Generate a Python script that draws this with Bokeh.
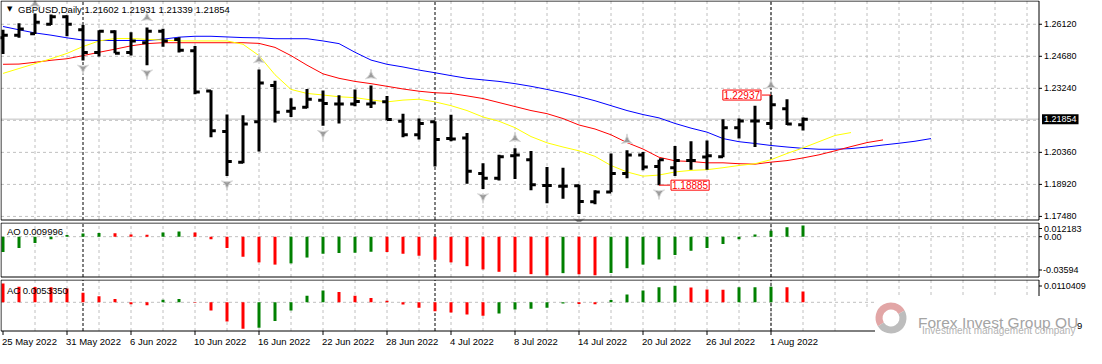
from datetime import date
import numpy as np
from bokeh.plotting import figure
from bokeh.layouts import column
from bokeh.models import ColumnDataSource, Label, BoxAnnotation, Range1d
from bokeh.embed import file_html
from bokeh.resources import INLINE

# ---------------- data ----------------
symbol = "GBPUSD"
timeframe = "Daily"

dates = ["2022-05-25", "2022-05-26", "2022-05-27", "2022-05-30", "2022-05-31",
         "2022-06-01", "2022-06-02", "2022-06-03", "2022-06-06", "2022-06-07",
         "2022-06-08", "2022-06-09", "2022-06-10", "2022-06-13", "2022-06-14",
         "2022-06-15", "2022-06-16", "2022-06-17", "2022-06-20", "2022-06-21",
         "2022-06-22", "2022-06-23", "2022-06-24", "2022-06-27", "2022-06-28",
         "2022-06-29", "2022-06-30", "2022-07-01", "2022-07-04", "2022-07-05",
         "2022-07-06", "2022-07-07", "2022-07-08", "2022-07-11", "2022-07-12",
         "2022-07-13", "2022-07-14", "2022-07-15", "2022-07-18", "2022-07-19",
         "2022-07-20", "2022-07-21", "2022-07-22", "2022-07-25", "2022-07-26",
         "2022-07-27", "2022-07-28", "2022-07-29", "2022-08-01", "2022-08-02",
         "2022-08-03"]

opens = [1.25510, 1.25628, 1.25697, 1.26120, 1.26455, 1.25872, 1.24856, 1.25780, 1.24856, 1.25292,
         1.25802, 1.25436, 1.24931, 1.23114, 1.21297, 1.19920, 1.21733, 1.23362, 1.22212, 1.22386,
         1.22708, 1.22534, 1.22534, 1.22534, 1.22634, 1.21763, 1.21153, 1.21733, 1.20979, 1.21009,
         1.19410, 1.19192, 1.20208, 1.20033, 1.18874, 1.18831, 1.18857, 1.18134, 1.18582, 1.19410,
         1.20238, 1.19728, 1.19672, 1.19990, 1.20150, 1.20164, 1.21471, 1.21776, 1.21663, 1.22316,
         1.21602]
highs = [1.25872, 1.26164, 1.26599, 1.26556, 1.26525, 1.26090, 1.25846, 1.25846, 1.25758, 1.25976,
         1.25915, 1.25541, 1.25148, 1.23157, 1.22068, 1.22024, 1.24085, 1.23580, 1.22796, 1.23214,
         1.23144, 1.22926, 1.23188, 1.23362, 1.22896, 1.22098, 1.21881, 1.21763, 1.22055, 1.21227,
         1.19876, 1.20251, 1.20543, 1.20425, 1.19702, 1.19672, 1.18900, 1.18656, 1.20312, 1.20456,
         1.20382, 1.20033, 1.20643, 1.20861, 1.20892, 1.21850, 1.21881, 1.22460, 1.22937, 1.22752,
         1.21931]
lows = [1.24782, 1.25510, 1.25684, 1.26090, 1.25584, 1.24495, 1.24669, 1.24813, 1.24713, 1.24277,
        1.25105, 1.24856, 1.22970, 1.21035, 1.19293, 1.19876, 1.20399, 1.21706, 1.21950, 1.22342,
        1.21558, 1.21663, 1.22430, 1.22360, 1.21807, 1.21035, 1.20935, 1.19728, 1.20861, 1.18944,
        1.18713, 1.19092, 1.19162, 1.18656, 1.18073, 1.18277, 1.17593, 1.18029, 1.18569, 1.19192,
        1.19554, 1.18885, 1.19293, 1.19584, 1.19584, 1.20138, 1.20979, 1.20600, 1.21414, 1.21589,
        1.21339]
closes = [1.25628, 1.25902, 1.26207, 1.26455, 1.26120, 1.24856, 1.25802, 1.24813, 1.25366, 1.25802,
          1.25366, 1.24957, 1.23070, 1.21327, 1.19946, 1.21632, 1.23475, 1.22168, 1.22342, 1.22752,
          1.22560, 1.22534, 1.22647, 1.22578, 1.21837, 1.21153, 1.21663, 1.20935, 1.20966, 1.19510,
          1.19192, 1.20164, 1.20238, 1.18900, 1.18874, 1.18831, 1.18147, 1.18582, 1.19410, 1.20238,
          1.19702, 1.20033, 1.19990, 1.19990, 1.20208, 1.21471, 1.21776, 1.21776, 1.22504, 1.21632,
          1.21854]

# Alligator lines (they run into the future)
jaw = [1.2602, 1.2587, 1.2573, 1.2563, 1.2551, 1.2541, 1.2539, 1.2539, 1.2539, 1.2539,
       1.2545, 1.2554, 1.2558, 1.2558, 1.2555, 1.2552, 1.2551, 1.2547, 1.2547, 1.2547,
       1.2537, 1.2525, 1.2486, 1.2451, 1.2432, 1.2420, 1.2406, 1.2394, 1.2381, 1.2369,
       1.2362, 1.2355, 1.2345, 1.2333, 1.2319, 1.2304, 1.2287, 1.2268, 1.2246, 1.2224,
       1.2206, 1.2191, 1.2166, 1.2145, 1.2127, 1.2098, 1.2084, 1.2076, 1.2067, 1.2060,
       1.2054, 1.2050, 1.2050, 1.2053, 1.2060, 1.2069, 1.2077, 1.2086, 1.2098]
teeth = [1.2432, 1.2433, 1.2441, 1.2450, 1.2457, 1.2471, 1.2486, 1.2500, 1.2515, 1.2525,
         1.2529, 1.2529, 1.2529, 1.2529, 1.2529, 1.2529, 1.2526, 1.2508, 1.2471, 1.2428,
         1.2389, 1.2369, 1.2355, 1.2345, 1.2333, 1.2321, 1.2311, 1.2304, 1.2301, 1.2290,
         1.2278, 1.2260, 1.2242, 1.2224, 1.2210, 1.2188, 1.2159, 1.2141, 1.2115, 1.2080,
         1.2051, 1.2014, 1.1998, 1.1995, 1.1989, 1.1989, 1.1985, 1.1983, 1.1992, 1.1999,
         1.2011, 1.2025, 1.2043, 1.2062, 1.2080, 1.2092]
lips = [1.2391, 1.2413, 1.2435, 1.2457, 1.2481, 1.2512, 1.2537, 1.2548, 1.2548, 1.2544,
        1.2541, 1.2537, 1.2537, 1.2537, 1.2537, 1.2522, 1.2471, 1.2385, 1.2319, 1.2301,
        1.2294, 1.2286, 1.2282, 1.2272, 1.2263, 1.2271, 1.2275, 1.2263, 1.2246, 1.2224,
        1.2195, 1.2176, 1.2147, 1.2107, 1.2079, 1.2060, 1.2043, 1.2018, 1.1977, 1.1948,
        1.1929, 1.1934, 1.1948, 1.1955, 1.1958, 1.1967, 1.1977, 1.1985, 1.2003, 1.2031,
        1.2056, 1.2084, 1.2112, 1.2125]

fractal_up = [2, 9, 16, 23, 32, 39, 48]
fractal_down = [5, 9, 14, 20, 30, 36, 41]
marked_high_idx = 48
marked_low_idx = 41

ao = [-0.0137, -0.0100, -0.0057, -0.0023, 0.0014, 0.0029, 0.0032, 0.0030, 0.0020, 0.0018,
      0.0037, 0.0046, 0.0037, -0.0023, -0.0100, -0.0178, -0.0229, -0.0249, -0.0238, -0.0186,
      -0.0152, -0.0146, -0.0144, -0.0135, -0.0137, -0.0152, -0.0170, -0.0206, -0.0229, -0.0263,
      -0.0292, -0.0313, -0.0316, -0.0334, -0.0345, -0.0325, -0.0335, -0.0344, -0.0324, -0.0281,
      -0.0249, -0.0203, -0.0163, -0.0126, -0.0100, -0.0066, -0.0023, 0.0020, 0.0052, 0.0084,
      0.009996]
ac = [0.0093, 0.0077, 0.0076, 0.0075, 0.0068, 0.0047, 0.0030, 0.0016, -0.0009, -0.0014,
      0.0013, 0.0016, -0.0002, -0.0041, -0.0095, -0.0131, -0.0126, -0.0092, -0.0040, 0.0032,
      0.0058, 0.0051, 0.0032, 0.0021, 0.0008, -0.0011, -0.0027, -0.0044, -0.0051, -0.0060,
      -0.0066, -0.0055, -0.0036, -0.0032, -0.0027, -0.0006, -0.0008, -0.0010, 0.0011, 0.0039,
      0.0058, 0.0074, 0.0082, 0.0073, 0.0063, 0.0062, 0.0074, 0.0075, 0.0077, 0.0074,
      0.005335]
ao_first_up = True
ac_first_up = False

price_ticks = [1.17480, 1.18920, 1.20360, 1.21800, 1.23240, 1.24680, 1.26120]
price_lo, price_hi = 1.17319, 1.27166
ao_lo, ao_hi = -0.03594, 0.012183
ac_lo, ac_hi = -0.0142, 0.0110409

# ---------------- layout / style ----------------
FONT = "Liberation Sans"
W = 1086
CHART_W = 1038
BAR_PX = 16
X0 = -0.125                 # left edge of the chart boxes (bar units)
XR = X0 + CHART_W / BAR_PX  # right edge of the chart boxes
XS = X0 - 0.5 / BAR_PX      # canvas left
XE = XS + W / BAR_PX        # canvas right
TICK = 0.3
GREEN = "#008000"
RED = "#ff0000"
GRID = "#c0c0c0"

n = len(closes)
x = np.arange(n)
dts = [date.fromisoformat(d) for d in dates]
xr = Range1d(XS, XE)


def px(v):
    return v / BAR_PX


def make_fig(h, lo, hi, top_px, bot_px):
    ppx = (hi - lo) / (bot_px - top_px)
    p = figure(width=W, height=h, x_range=xr,
               y_range=Range1d(lo - (h - bot_px) * ppx, hi + top_px * ppx),
               x_axis_location=None, y_axis_location=None, min_border=0,
               output_backend="svg", toolbar_location=None)
    p.outline_line_color = None
    p.grid.visible = False
    p.background_fill_color = "white"
    p.border_fill_color = "white"
    return p, ppx


def grid(p, lo, hi, hlevels):
    gx = list(range(2, int(XR) + 1, 2))
    r = p.segment(x0=gx, y0=[lo] * len(gx), x1=gx, y1=[hi] * len(gx),
                  line_color=GRID, line_dash="3 3", line_width=1)
    r.level = "underlay"
    r = p.segment(x0=[X0] * len(hlevels), y0=hlevels, x1=[XR] * len(hlevels), y1=hlevels,
                  line_color=GRID, line_dash="3 3", line_width=1)
    r.level = "underlay"


def separators(p, lo, hi):
    sx = [i for i in range(1, n) if dts[i].month != dts[i - 1].month]
    r = p.segment(x0=sx, y0=[lo] * len(sx), x1=sx, y1=[hi] * len(sx),
                  line_color="black", line_dash="3 2", line_width=1)
    r.level = "underlay"


def border(p, lo, hi, bottom_end=XR, right_low=None):
    right_low = lo if right_low is None else right_low
    p.segment(x0=[X0, X0, X0, XR], y0=[hi, lo, lo, right_low],
              x1=[XR, bottom_end, X0, XR], y1=[hi, lo, hi, hi],
              line_color="black", line_width=1)


def right_ticks(p, levels):
    p.segment(x0=[XR] * len(levels), y0=levels, x1=[XR + px(3)] * len(levels), y1=levels,
              line_color="black", line_width=1)


def text(p, xx, yy, s, xo=0, yo=0, size="9.5px", color="black", align="left",
         baseline="middle", font=FONT, **kw):
    p.add_layout(Label(x=xx, y=yy, x_offset=xo, y_offset=yo, text=s, text_font=font,
                       text_font_size=size, text_color=color, text_align=align,
                       text_baseline=baseline, **kw))


# ---------------- main price panel ----------------
p1, pp1 = make_fig(222, price_lo, price_hi, 0.5, 219.5)
grid(p1, price_lo, price_hi, price_ticks)
r = p1.segment(x0=[X0], y0=[closes[-1]], x1=[XR], y1=[closes[-1]], line_color=GRID, line_width=1)
r.level = "underlay"
separators(p1, price_lo, price_hi)

p1.line(list(range(len(jaw))), jaw, line_color="#0000ff", line_width=1)
p1.line(list(range(len(teeth))), teeth, line_color="#ff0000", line_width=1)
p1.line(list(range(len(lips))), lips, line_color="#ffff00", line_width=1)

bars = ColumnDataSource(dict(x=x, xl=x - TICK, xr=x + TICK, o=opens, h=highs, l=lows, c=closes))
p1.segment(x0="x", y0="l", x1="x", y1="h", source=bars, line_color="black", line_width=3)
p1.segment(x0="xl", y0="o", x1="x", y1="o", source=bars, line_color="black", line_width=3)
p1.segment(x0="x", y0="c", x1="xr", y1="c", source=bars, line_color="black", line_width=3)

UP_GAP, DOWN_GAP = 10 * pp1, 8 * pp1
p1.scatter(x=fractal_up, y=[highs[i] + UP_GAP for i in fractal_up], marker="triangle_pin",
           size=11, fill_color="#9c9c9c", line_color="#d6d6d6", line_width=1)
p1.scatter(x=fractal_down, y=[lows[i] - DOWN_GAP for i in fractal_down], marker="triangle_pin",
           angle=np.pi, size=11, fill_color="#9c9c9c", line_color="#d6d6d6", line_width=1)

hi_v = highs[marked_high_idx]
lo_v = lows[marked_low_idx]
p1.segment(x0=[marked_high_idx - px(9)], y0=[hi_v], x1=[marked_high_idx], y1=[hi_v],
           line_color=RED, line_width=1)
p1.segment(x0=[marked_low_idx], y0=[lo_v], x1=[marked_low_idx + px(11)], y1=[lo_v],
           line_color=RED, line_width=1)
text(p1, marked_high_idx, hi_v, f"{hi_v:.5f}", xo=-10, size="10px", color=RED, align="right",
     border_line_color=RED, background_fill_color="white", padding=1)
text(p1, marked_low_idx, lo_v, f"{lo_v:.5f}", xo=12, size="10px", color=RED, align="left",
     border_line_color=RED, background_fill_color="white", padding=1)

border(p1, price_lo, price_hi)
shown_ticks = [t for t in price_ticks if abs(t - closes[-1]) > 0.002]
right_ticks(p1, shown_ticks)
for t in shown_ticks:
    text(p1, XR, t, f"{t:.5f}", xo=5, size="9px")
text(p1, XR, closes[-1], f"{closes[-1]:.5f}", xo=3, size="9px", color="white",
     background_fill_color="black", padding=2)

text(p1, X0, price_hi, "\u25BC", xo=6, yo=-8, size="7px", font="DejaVu Sans")
text(p1, X0, price_hi,
     f"{symbol},{timeframe}  {opens[-1]:.5f} {highs[-1]:.5f} {lows[-1]:.5f} {closes[-1]:.5f}",
     xo=17, yo=-8)

# ---------------- AO panel ----------------
ao_up = [ao_first_up] + [ao[i] > ao[i - 1] for i in range(1, n)]
ac_up = [ac_first_up] + [ac[i] > ac[i - 1] for i in range(1, n)]

p2, pp2 = make_fig(57, ao_lo, ao_hi, 0.5, 54.5)
grid(p2, ao_lo, ao_hi, [0])
separators(p2, ao_lo, ao_hi)
p2.vbar(x=x, bottom=0, top=ao, width=px(3), line_color=None,
        fill_color=[GREEN if u else RED for u in ao_up])
border(p2, ao_lo, ao_hi)
right_ticks(p2, [ao_hi - 5.5 * pp2, 0, ao_lo + 7 * pp2])
text(p2, X0, ao_hi, f"AO {ao[-1]:.6f}", xo=6, yo=-8)
text(p2, XR, ao_hi, f"{ao_hi:.6f}", xo=5, yo=-5.5, size="9px")
text(p2, XR, 0, "0.00", xo=5, size="9px")
text(p2, XR, ao_lo, f"{ao_lo:.5f}", xo=4, yo=7, size="9px")

# ---------------- AC panel ----------------
p3, pp3 = make_fig(69, ac_lo, ac_hi, 0.5, 51.5)
grid(p3, ac_lo, ac_hi, [0])
separators(p3, ac_lo, ac_hi)
# the watermark's white background covers the lower right corner
p3.add_layout(BoxAnnotation(left=XR - px(164), right=XR, bottom=ac_lo, top=ac_hi - 16 * pp3,
                            fill_color="white", fill_alpha=1, line_color=None, level="underlay"))
p3.add_layout(BoxAnnotation(left=XR - px(198), right=XR - px(164), bottom=ac_lo,
                            top=ac_hi - 27 * pp3, fill_color="white", fill_alpha=1,
                            line_color=None, level="underlay"))
p3.vbar(x=x, bottom=0, top=ac, width=px(3), line_color=None,
        fill_color=[GREEN if u else RED for u in ac_up])
border(p3, ac_lo, ac_hi, bottom_end=XR - px(164), right_low=ac_hi - 16 * pp3)
right_ticks(p3, [ac_hi - 6 * pp3])
text(p3, X0, ac_hi, f"AC {ac[-1]:.7f}", xo=6, yo=-10)
text(p3, XR, ac_hi, f"{ac_hi:.7f}", xo=5, yo=-6, size="9px")

# date axis
date_ticks = list(range(0, n, 4))
p3.segment(x0=date_ticks, y0=[ac_lo] * len(date_ticks), x1=date_ticks,
           y1=[ac_lo - 4 * pp3] * len(date_ticks), line_color="black", line_width=1)
for i in date_ticks:
    text(p3, i, ac_lo, f"{dts[i].day} {dts[i]:%b %Y}", xo=-1, yo=-10)

# watermark
logo_x, logo_y = XR - px(148), ac_lo + 13 * pp3
p3.arc(x=[logo_x], y=[logo_y], radius=12, radius_units="screen", start_angle=0.5,
       end_angle=3.7, line_color="#e2a6a6", line_width=7)
p3.arc(x=[logo_x], y=[logo_y], radius=12, radius_units="screen", start_angle=3.7,
       end_angle=0.5 + 2 * np.pi, line_color="#bdbdbd", line_width=7)
text(p3, XR, ac_lo, "Forex Invest Group OU", xo=-121, yo=9, size="15.5px", color="#a4a4a4",
     baseline="alphabetic")
text(p3, XR, ac_lo, "Investment management company", xo=-117, yo=1, size="10px",
     color="#b2b2b2")
text(p3, XR, ac_lo, "9", xo=38, yo=5, size="9.5px")

layout = column(p1, p2, p3)
open("out.html", "w").write(file_html(layout, INLINE, title=f"{symbol},{timeframe}"))
